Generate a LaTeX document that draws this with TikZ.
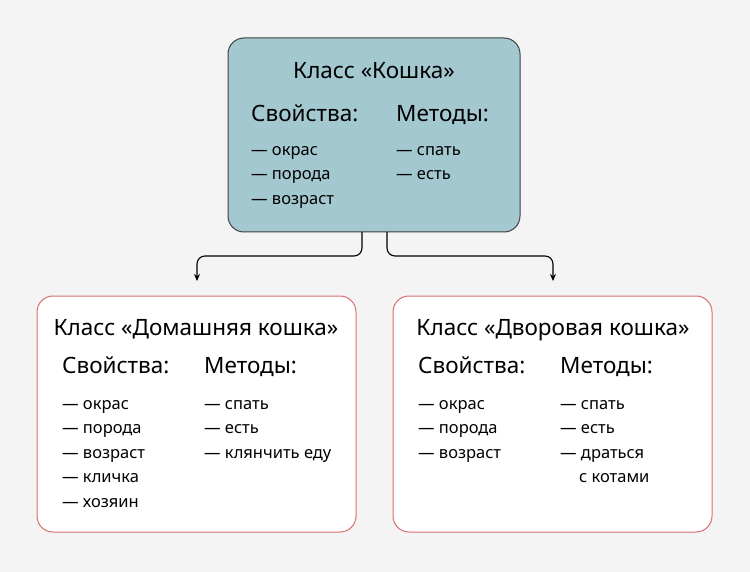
\documentclass[tikz,border=0pt]{standalone}
\usepackage{fontspec}
\setmainfont{Noto Sans}
\usetikzlibrary{arrows.meta,positioning}
\definecolor{bgcol}{HTML}{F4F4F4}
\definecolor{tealfill}{HTML}{A3C8CF}
\definecolor{redline}{HTML}{D7706B}
\tikzset{
  catbox/.style={rectangle, rounded corners=16pt, line width=1pt},
  ttl/.style={font=\fontsize{22.5}{26}\selectfont, inner sep=0pt, text height=16pt, text depth=5pt},
  hdr/.style={font=\fontsize{22.5}{26}\selectfont, anchor=west, inner sep=0pt, text height=16pt, text depth=5pt},
  itm/.style={font=\fontsize{16.5}{20}\selectfont, anchor=west, inner sep=0pt, text height=12pt, text depth=4pt},
  conn/.style={line width=1.1pt, rounded corners=8pt, -{Stealth[length=7pt,width=6pt]}}
}
\begin{document}
\begin{tikzpicture}[x=1pt,y=-1pt]
  \fill[bgcol] (0,0) rectangle (750,572);
  \useasboundingbox (0,0) rectangle (750,572);

  % boxes
  \draw[catbox, fill=tealfill, draw=black!75] (228,38) rectangle (520,232);
  \draw[catbox, fill=white, draw=redline] (37,296) rectangle (356,532);
  \draw[catbox, fill=white, draw=redline] (393,296) rectangle (712,532);

  % top class
  \node[ttl] (cat) at (374,73) {Класс «Кошка»};
  \node[hdr] (catprop) at (251,116) {Свойства:};
  \node[hdr] (catmeth) at (396,116) {Методы:};
  \node[itm] at (251,152) {— окрас};
  \node[itm] at (251,176) {— порода};
  \node[itm] at (251,201) {— возраст};
  \node[itm] at (396,152) {— спать};
  \node[itm] at (396,176) {— есть};

  % home cat
  \node[ttl] (home) at (196,330) {Класс «Домашняя кошка»};
  \node[hdr] (homeprop) at (62,368) {Свойства:};
  \node[hdr] (homemeth) at (204,368) {Методы:};
  \node[itm] at (62,405) {— окрас};
  \node[itm] at (62,429) {— порода};
  \node[itm] at (62,454) {— возраст};
  \node[itm] at (62,478) {— кличка};
  \node[itm] at (62,503) {— хозяин};
  \node[itm] at (204,405) {— спать};
  \node[itm] at (204,429) {— есть};
  \node[itm] at (204,454) {— клянчить еду};

  % yard cat
  \node[ttl] (yard) at (553,330) {Класс «Дворовая кошка»};
  \node[hdr] (yardprop) at (418,368) {Свойства:};
  \node[hdr] (yardmeth) at (560,368) {Методы:};
  \node[itm] at (418,405) {— окрас};
  \node[itm] at (418,429) {— порода};
  \node[itm] at (418,454) {— возраст};
  \node[itm] at (560,405) {— спать};
  \node[itm] at (560,429) {— есть};
  \node[itm] at (560,454) {— драться};
  \node[itm] at (579,478) {с котами};

  % connectors
  \coordinate (outl) at (362,232);
  \coordinate (outr) at (387,232);
  \coordinate (inl) at (197,281);
  \coordinate (inr) at (553,281);
  \draw[conn] (outl) |- (280,256) -| (inl);
  \draw[conn] (outr) |- (470,256) -| (inr);
\end{tikzpicture}
\end{document}
